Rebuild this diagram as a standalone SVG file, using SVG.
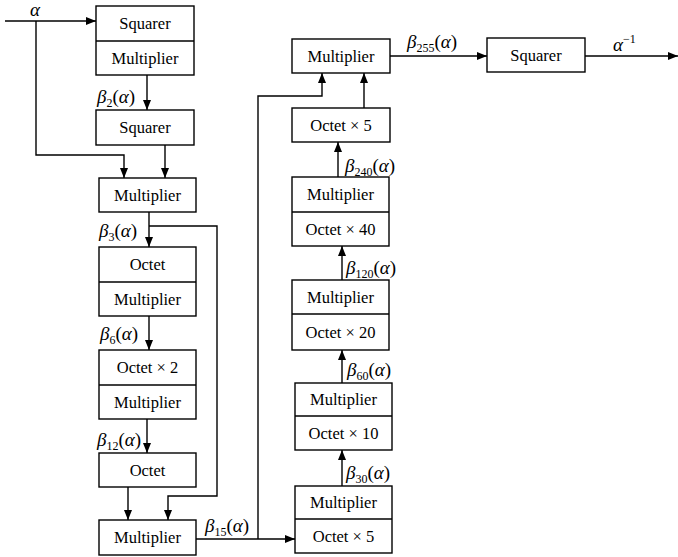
<svg xmlns="http://www.w3.org/2000/svg" width="678" height="557" viewBox="0 0 678 557">
<defs>
<marker id="ah" markerUnits="userSpaceOnUse" markerWidth="10" markerHeight="8" refX="10" refY="4" orient="auto"><path d="M0,0 L10,4 L0,8 Z" fill="#000"/></marker>
</defs>
<style>
rect{fill:#fff;stroke:#000;stroke-width:1.4}
.d{stroke:#000;stroke-width:1.4}
text{font-family:'Liberation Serif','Times New Roman','DejaVu Serif',serif}
.t{font-size:16.5px;text-anchor:middle;fill:#000}
.l{font-size:19px;fill:#000}
.i{font-style:italic}
.s{font-size:12px}
#connectors path{fill:none;stroke:#000;stroke-width:1.4}
</style>
<rect x="0" y="0" width="678" height="557" style="fill:#fff;stroke:none"/>
<g id="connectors">
<path d="M5,21 H96" marker-end="url(#ah)"/>
<path d="M36,21 V155 H124 V178" marker-end="url(#ah)"/>
<path d="M147,75 V110" marker-end="url(#ah)"/>
<path d="M165,145 V178" marker-end="url(#ah)"/>
<path d="M149,212 V247" marker-end="url(#ah)"/>
<path d="M149,226 H217 V496 H168 V520" marker-end="url(#ah)"/>
<path d="M149,316 V350" marker-end="url(#ah)"/>
<path d="M147,419 V453" marker-end="url(#ah)"/>
<path d="M128,487 V520" marker-end="url(#ah)"/>
<path d="M196,539 H295" marker-end="url(#ah)"/>
<path d="M258,539 V96 H322 V73" marker-end="url(#ah)"/>
<path d="M342,486 V450" marker-end="url(#ah)"/>
<path d="M342,383 V350" marker-end="url(#ah)"/>
<path d="M342,280 V246" marker-end="url(#ah)"/>
<path d="M338,177 V142" marker-end="url(#ah)"/>
<path d="M364,108 V73" marker-end="url(#ah)"/>
<path d="M390,56 H487" marker-end="url(#ah)"/>
<path d="M585,56 H678" marker-end="url(#ah)"/>
</g>
<g id="labels" font-family="Liberation Serif, serif">
<text class="l i" x="30" y="16">α</text>
<text class="l" x="97" y="103"><tspan class="i">β</tspan><tspan class="s" dy="4">2</tspan><tspan dy="-4">(</tspan><tspan class="i">α</tspan>)</text>
<text class="l" x="99" y="237"><tspan class="i">β</tspan><tspan class="s" dy="4">3</tspan><tspan dy="-4">(</tspan><tspan class="i">α</tspan>)</text>
<text class="l" x="100" y="340"><tspan class="i">β</tspan><tspan class="s" dy="4">6</tspan><tspan dy="-4">(</tspan><tspan class="i">α</tspan>)</text>
<text class="l" x="97" y="446"><tspan class="i">β</tspan><tspan class="s" dy="4">12</tspan><tspan dy="-4">(</tspan><tspan class="i">α</tspan>)</text>
<text class="l" x="205" y="532"><tspan class="i">β</tspan><tspan class="s" dy="4">15</tspan><tspan dy="-4">(</tspan><tspan class="i">α</tspan>)</text>
<text class="l" x="407" y="48"><tspan class="i">β</tspan><tspan class="s" dy="4">255</tspan><tspan dy="-4">(</tspan><tspan class="i">α</tspan>)</text>
<text class="l" x="613" y="51"><tspan class="i">α</tspan><tspan class="s" dy="-8">−1</tspan></text>
<text class="l" x="345" y="172"><tspan class="i">β</tspan><tspan class="s" dy="4">240</tspan><tspan dy="-4">(</tspan><tspan class="i">α</tspan>)</text>
<text class="l" x="346" y="274"><tspan class="i">β</tspan><tspan class="s" dy="4">120</tspan><tspan dy="-4">(</tspan><tspan class="i">α</tspan>)</text>
<text class="l" x="347" y="376"><tspan class="i">β</tspan><tspan class="s" dy="4">60</tspan><tspan dy="-4">(</tspan><tspan class="i">α</tspan>)</text>
<text class="l" x="346" y="479"><tspan class="i">β</tspan><tspan class="s" dy="4">30</tspan><tspan dy="-4">(</tspan><tspan class="i">α</tspan>)</text>
</g>
<g id="n1"><rect x="96" y="6" width="98" height="69"/><line class="d" x1="96" y1="41" x2="194" y2="41"/><text class="t" x="145" y="29">Squarer</text><text class="t" x="145" y="64">Multiplier</text></g>
<g id="n2"><rect x="96" y="110" width="98" height="35"/><text class="t" x="145" y="133">Squarer</text></g>
<g id="n3"><rect x="99" y="178" width="97" height="34"/><text class="t" x="147.5" y="200.5">Multiplier</text></g>
<g id="n4"><rect x="99" y="247" width="97" height="69"/><line class="d" x1="99" y1="282" x2="196" y2="282"/><text class="t" x="147.5" y="270">Octet</text><text class="t" x="147.5" y="304.5">Multiplier</text></g>
<g id="n5"><rect x="99" y="350" width="97" height="69"/><line class="d" x1="99" y1="385" x2="196" y2="385"/><text class="t" x="147.5" y="373">Octet × 2</text><text class="t" x="147.5" y="407.5">Multiplier</text></g>
<g id="n6"><rect x="99" y="453" width="97" height="34"/><text class="t" x="147.5" y="475.5">Octet</text></g>
<g id="n7"><rect x="99" y="520" width="97" height="35"/><text class="t" x="147.5" y="543">Multiplier</text></g>
<g id="n8"><rect x="295" y="486" width="97" height="67"/><line class="d" x1="295" y1="519" x2="392" y2="519"/><text class="t" x="343.5" y="508">Multiplier</text><text class="t" x="343.5" y="541.5">Octet × 5</text></g>
<g id="n9"><rect x="295" y="383" width="97" height="67"/><line class="d" x1="295" y1="416" x2="392" y2="416"/><text class="t" x="343.5" y="405">Multiplier</text><text class="t" x="343.5" y="438.5">Octet × 10</text></g>
<g id="n10"><rect x="292" y="280" width="97" height="70"/><line class="d" x1="292" y1="314" x2="389" y2="314"/><text class="t" x="340.5" y="302.5">Multiplier</text><text class="t" x="340.5" y="337.5">Octet × 20</text></g>
<g id="n11"><rect x="292" y="177" width="97" height="69"/><line class="d" x1="292" y1="212" x2="389" y2="212"/><text class="t" x="340.5" y="200">Multiplier</text><text class="t" x="340.5" y="234.5">Octet × 40</text></g>
<g id="n12"><rect x="292" y="108" width="98" height="34"/><text class="t" x="341" y="130.5">Octet × 5</text></g>
<g id="n13"><rect x="292" y="39" width="98" height="34"/><text class="t" x="341" y="61.5">Multiplier</text></g>
<g id="n14"><rect x="487" y="38" width="98" height="34"/><text class="t" x="536" y="60.5">Squarer</text></g>
</svg>
